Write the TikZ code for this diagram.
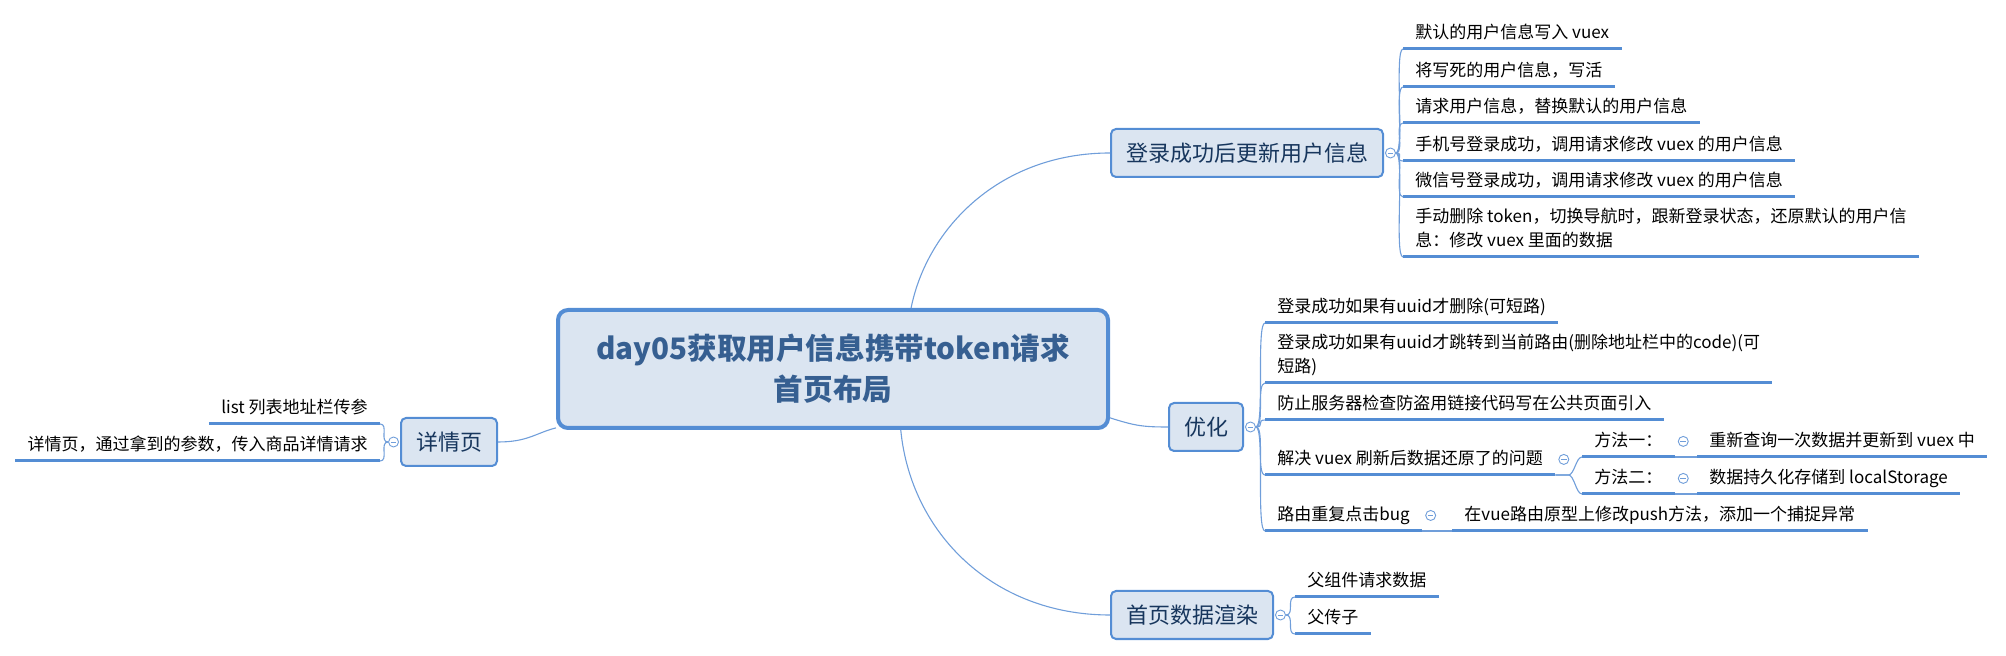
\documentclass[tikz,border=0pt]{standalone}
\usepackage{fontspec}
\setmainfont{Noto Sans CJK SC}
\usetikzlibrary{positioning}

\definecolor{lineblue}{RGB}{84,141,212}
\definecolor{linkblue}{RGB}{112,158,218}
\definecolor{boxfill}{RGB}{219,229,241}
\definecolor{roottext}{RGB}{54,95,145}
\definecolor{subtext}{RGB}{23,54,93}

\begin{document}
\begin{tikzpicture}[
    x=0.5pt, y=-0.5pt,
    root/.style={draw=lineblue, line width=2pt, fill=boxfill, rounded corners=5pt,
                 minimum width=275pt, minimum height=59pt, align=center,
                 text=roottext, font=\fontsize{14.8}{20.5}\selectfont\bfseries},
    topic/.style={draw=lineblue, line width=1pt, fill=boxfill, rounded corners=2.5pt,
                  minimum height=24pt, inner xsep=7.5pt, text=subtext,
                  font=\fontsize{11}{13}\selectfont},
    leaf/.style={inner xsep=6pt, inner ysep=3pt, text depth=2pt, align=left,
                 font=\fontsize{8.5}{11.8}\selectfont},
    uline/.style={draw=lineblue, line width=1.5pt},
    link/.style={draw=linkblue, line width=0.55pt},
    knob/.style={circle, draw=linkblue, fill=white, line width=0.45pt,
                 minimum size=5pt, inner sep=0pt,
                 path picture={\draw[linkblue, line width=0.4pt]
                   ([xshift=-1.4pt]path picture bounding box.center) --
                   ([xshift=1.4pt]path picture bounding box.center);}}
]
\useasboundingbox (0,0) rectangle (2006,656);

% central topic
\node[root] (root) at (833,369) {day05获取用户信息携带token请求\\首页布局};

% main branches
\node[topic, anchor=west] (login) at (1110,153) {登录成功后更新用户信息};
\node[topic, anchor=west] (opt) at (1168,427) {优化};
\node[topic, anchor=west] (home) at (1110,615) {首页数据渲染};
\node[topic, anchor=east] (detail) at (498,442) {详情页};

%登录成功后更新用户信息
\node[leaf, anchor=south west] (login1) at (1403,49) {默认的用户信息写入 vuex};
\node[leaf, anchor=south west] (login2) at (1403,87) {将写死的用户信息，写活};
\node[leaf, anchor=south west] (login3) at (1403,123) {请求用户信息，替换默认的用户信息};
\node[leaf, anchor=south west] (login4) at (1403,161) {手机号登录成功，调用请求修改 vuex 的用户信息};
\node[leaf, anchor=south west] (login5) at (1403,197) {微信号登录成功，调用请求修改 vuex 的用户信息};
\node[leaf, anchor=south west] (login6) at (1403,257) {手动删除 token，切换导航时，跟新登录状态，还原默认的用户信\\息：修改 vuex 里面的数据};

% 优化
\node[leaf, anchor=south west] (opt1) at (1265,323) {登录成功如果有uuid才删除(可短路)};
\node[leaf, anchor=south west] (opt2) at (1265,383) {登录成功如果有uuid才跳转到当前路由(删除地址栏中的code)(可\\短路)};
\node[leaf, anchor=south west] (opt3) at (1265,420) {防止服务器检查防盗用链接代码写在公共页面引入};
\node[leaf, anchor=south west] (opt4) at (1265,475) {解决 vuex 刷新后数据还原了的问题};
\node[leaf, anchor=south west] (opt5) at (1265,531) {路由重复点击bug};
\node[leaf, anchor=south west] (way1) at (1582,457) {方法一：};
\node[leaf, anchor=south west] (way2) at (1582,494) {方法二：};
\node[leaf, anchor=south west] (way1x) at (1697,457) {重新查询一次数据并更新到 vuex 中};
\node[leaf, anchor=south west] (way2x) at (1697,494) {数据持久化存储到 localStorage};
\node[leaf, anchor=south west] (bugfix) at (1452,531) {在vue路由原型上修改push方法，添加一个捕捉异常};

% 首页数据渲染
\node[leaf, anchor=south west] (home1) at (1295,597) {父组件请求数据};
\node[leaf, anchor=south west] (home2) at (1295,634) {父传子};

% 详情页
\node[leaf, anchor=south east] (detail1) at (380,424) {list 列表地址栏传参};
\node[leaf, anchor=south east] (detail2) at (380,461) {详情页，通过拿到的参数，传入商品详情请求};

% underlines
\foreach \n in {login1,login2,login3,login4,login5,login6,
                opt1,opt2,opt3,opt4,opt5,way1,way2,way1x,way2x,bugfix,
                home1,home2,detail1,detail2}
    \draw[uline] (\n.south west) -- (\n.south east);

% collapse knobs
\node[knob, right=0.5pt of login] (loginK) {};
\node[knob, right=0.5pt of opt] (optK) {};
\node[knob, right=0.5pt of home] (homeK) {};
\node[knob, left=0.5pt of detail] (detailK) {};
\node[knob, right=1.5pt of opt4] (opt4K) {};
\node[knob, right=1.5pt of opt5] (opt5K) {};
\node[knob, right=1.5pt of way1] (way1K) {};
\node[knob, right=1.5pt of way2] (way2K) {};

% root to branches
\draw[link] (root.38) .. controls +(16,-80) and +(-110,0) .. (login.west);
\draw[link] (root.-10) .. controls +(25,8) and +(-25,0) .. (opt.west);
\draw[link] (root.-42) .. controls +(10,103) and +(-117,0) .. (home.west);
\draw[link] (detail.east) .. controls +(30,0) and +(-20,5) .. (root.192);

% branches to leaves
\foreach \n in {login1,login2,login3,login4,login5,login6}
    \draw[link] (loginK.east) .. controls +(9,0) and +(-9,0) .. (\n.south west);
\foreach \n in {opt1,opt2,opt3,opt4,opt5}
    \draw[link] (optK.east) .. controls +(9,0) and +(-9,0) .. (\n.south west);
\foreach \n in {home1,home2}
    \draw[link] (homeK.east) .. controls +(9,0) and +(-9,0) .. (\n.south west);
\foreach \n in {detail1,detail2}
    \draw[link] (detailK.west) .. controls +(-9,0) and +(9,0) .. (\n.south east);
\foreach \n in {way1,way2}
    \draw[link] (opt4.south east) -- ++(13,0) .. controls +(6,0) and +(-6,0) .. (\n.south west);
\draw[link] (way1.south east) -- (way1x.south west);
\draw[link] (way2.south east) -- (way2x.south west);
\draw[link] (opt5.south east) -- (bugfix.south west);
\end{tikzpicture}
\end{document}
